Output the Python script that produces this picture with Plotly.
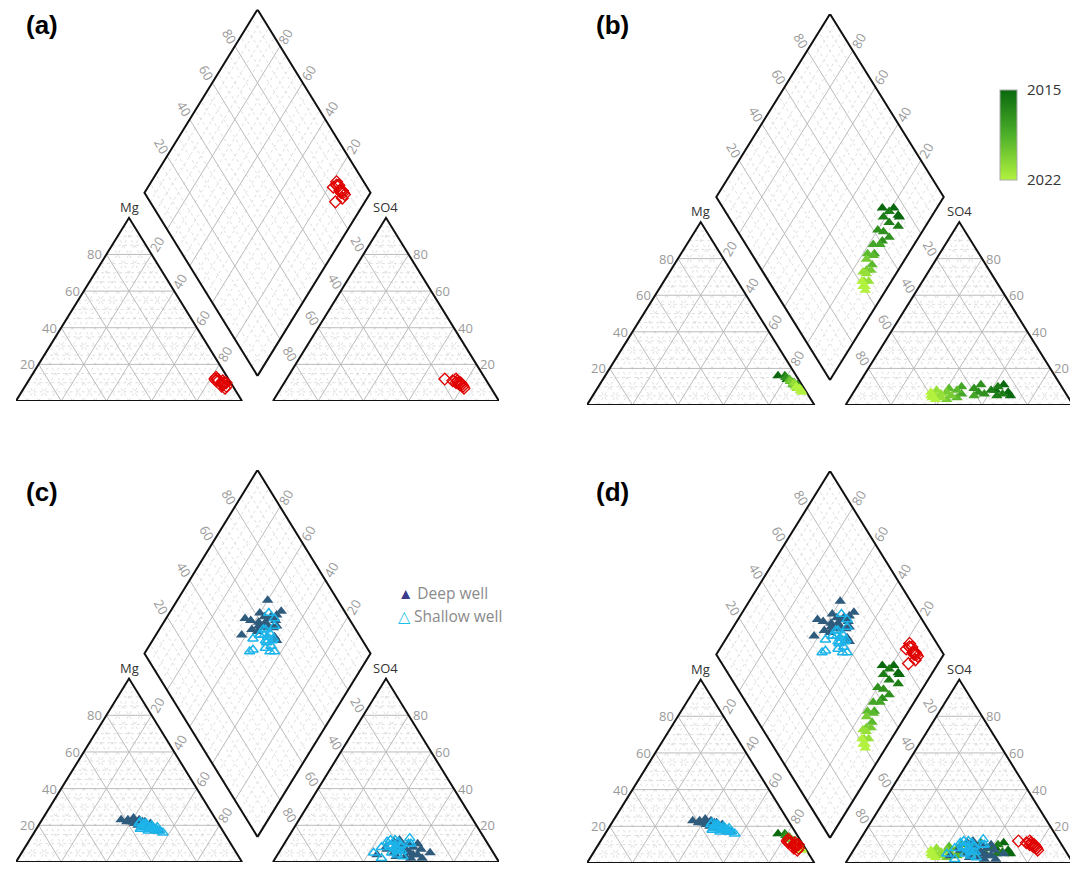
import numpy as np
import plotly.graph_objects as go

# ---------------- data (percent of meq) ----------------
# (a) red samples
a_ca  = [4, 5, 3, 6, 4, 5, 3, 4, 6, 5, 4, 2, 5, 3]
a_mg  = [10, 12, 8, 11, 9, 13, 10, 7, 12, 11, 9, 10, 8, 11]
a_so4 = [9, 11, 8, 10, 12, 9, 7, 10, 11, 8, 10, 9, 12, 10]
a_cl  = [78, 76, 80, 77, 75, 79, 81, 76, 74, 80, 78, 79, 70, 77]

# (b) green samples coloured by year
b_year = [2015, 2015, 2015, 2015, 2016, 2016, 2016, 2016, 2017, 2017, 2017, 2017,
          2018, 2018, 2018, 2019, 2019, 2019, 2020, 2020, 2020,
          2021, 2021, 2021, 2021, 2022, 2022, 2022, 2022]
b_mg  = [16, 11, 14, 12, 15, 10, 13, 16, 13, 11, 15, 12, 12, 14, 12, 11, 14, 10, 13, 9, 11, 10, 12, 8, 9, 8, 10, 7, 9]
b_ca  = [8, 3, 5, 3, 5, 2, 4, 5, 4, 2, 5, 3, 3, 4, 3, 4, 4, 3, 4, 3, 3, 3, 3, 2, 3, 2, 3, 2, 2]
b_so4 = [8, 7, 11, 5, 6, 10, 5, 8, 6, 11, 7, 9, 5, 10, 6, 8, 4, 9, 5, 7, 3, 6, 8, 4, 5, 3, 7, 5, 4]
b_cl  = [62, 68, 64, 70, 66, 62, 64, 60, 58, 54, 55, 52, 54, 46, 48, 45, 47, 41, 44, 41, 43, 39, 36, 40, 37, 38, 34, 35, 36]

# (c) deep wells
deep_ca  = [42, 40, 38, 36, 35, 37, 34, 33, 36, 32, 30, 34, 31, 29, 30, 33, 35, 28, 39, 32, 31, 37, 34, 30]
deep_mg  = [23, 22, 22, 24, 22, 21, 23, 21, 20, 20, 21, 19, 19, 18, 17, 22, 21, 17, 23, 22, 20, 22, 20, 19]
deep_so4 = [8, 4, 10, 7, 5, 9, 6, 3, 11, 7, 5, 8, 4, 6, 2, 12, 3, 9, 5, 10, 2, 7, 4, 8]
deep_cl  = [46, 44, 59, 55, 58, 50, 52, 57, 48, 62, 67, 54, 60, 56, 60, 50, 53, 53, 51, 55, 65, 47, 62, 58]

# (c) shallow wells
sh_ca  = [34, 33, 32, 31, 35, 30, 33, 29, 36, 28, 32, 34, 30, 27, 31, 33, 29, 35, 32, 30, 28, 34]
sh_mg  = [22, 19, 20, 18, 19, 19, 21, 17, 18, 17, 18, 20, 20, 16, 19, 17, 18, 21, 21, 18, 19, 19]
sh_so4 = [10, 13, 8, 6, 11, 9, 7, 12, 5, 8, 4, 9, 10, 7, 3, 11, 6, 8, 12, 5, 9, 2]
sh_cl  = [56, 54, 50, 52, 45, 48, 52, 46, 42, 48, 53, 47, 55, 51, 56, 50, 54, 44, 48, 50, 52, 47]

tick_vals = [20, 40, 60, 80]
panel_names = ["(a)", "(b)", "(c)", "(d)"]

# ---------------- geometry ----------------
FW, FH = 1078, 882
OFF = 8  # page body margin
G = 13.7
S3 = np.sqrt(3) / 2
W = 200 + G
H = 200 * S3 + G * S3


def px_x(px):
    return (px - OFF) / FW


def px_y(py):
    return 1 - (py - OFF) / FH


def cat_pt(ca, mg):
    na = 100 - ca - mg
    return (na + mg / 2.0, mg * S3)


def an_pt(so4, cl):
    return (100 + G + cl + so4 / 2.0, so4 * S3)


def dia_pt(A, C):
    return (100 + G / 2 + 0.5 * (A - C), G * S3 + S3 * (A + C))


def segs_to_xy(segs):
    xs, ys = [], []
    for p, q in segs:
        xs += [p[0], q[0], None]
        ys += [p[1], q[1], None]
    return xs, ys


def grid(vals):
    segs = []
    for v in vals:
        segs.append((cat_pt(100 - v, v), cat_pt(0, v)))
        segs.append((cat_pt(v, 0), cat_pt(v, 100 - v)))
        segs.append((cat_pt(100 - v, 0), cat_pt(0, 100 - v)))
        segs.append((an_pt(v, 0), an_pt(v, 100 - v)))
        segs.append((an_pt(0, v), an_pt(100 - v, v)))
        segs.append((an_pt(0, 100 - v), an_pt(100 - v, 0)))
        segs.append((dia_pt(v, 0), dia_pt(v, 100)))
        segs.append((dia_pt(0, v), dia_pt(100, v)))
    return segs_to_xy(segs)


def outline():
    polys = [
        [cat_pt(100, 0), cat_pt(0, 0), cat_pt(0, 100), cat_pt(100, 0)],
        [an_pt(0, 0), an_pt(0, 100), an_pt(100, 0), an_pt(0, 0)],
        [dia_pt(0, 0), dia_pt(100, 0), dia_pt(100, 100), dia_pt(0, 100), dia_pt(0, 0)],
    ]
    xs, ys = [], []
    for poly in polys:
        xs += [p[0] for p in poly] + [None]
        ys += [p[1] for p in poly] + [None]
    return xs, ys


def sample_xy(ca, mg, so4, cl):
    xs, ys = [], []
    for i in range(len(ca)):
        p = cat_pt(ca[i], mg[i]); xs.append(p[0]); ys.append(p[1])
    for i in range(len(ca)):
        p = an_pt(so4[i], cl[i]); xs.append(p[0]); ys.append(p[1])
    for i in range(len(ca)):
        p = dia_pt(so4[i] + cl[i], ca[i] + mg[i]); xs.append(p[0]); ys.append(p[1])
    return xs, ys


panels = [
    dict(x0=16, x1=499, ybot=401, ytop=9.5),
    dict(x0=587, x1=1073, ybot=405, ytop=14),
    dict(x0=16, x1=499, ybot=862, ytop=470),
    dict(x0=587, x1=1073, ybot=863, ytop=471),
]

fig = go.Figure()
annotations = []
layout = {}

minor_vals = [v for v in range(5, 100, 5) if v % 20 != 0]
TICK_FONT = dict(family="Open Sans", size=13, color="#9a9a9a")
CORNER_FONT = dict(family="Open Sans", size=13, color="#333333")

green_scale = [[0.0, "#b2f23e"], [0.5, "#4db02a"], [1.0, "#0a680e"]]

for i, p in enumerate(panels):
    sfx = "" if i == 0 else str(i + 1)
    xr, yr = "x" + sfx, "y" + sfx
    layout["xaxis" + sfx] = dict(domain=[px_x(p["x0"]), px_x(p["x1"])], range=[0, W], visible=False,
                                 anchor=yr, fixedrange=True)
    layout["yaxis" + sfx] = dict(domain=[px_y(p["ybot"]), px_y(p["ytop"])], range=[0, H],
                                 visible=False, anchor=xr, fixedrange=True)
    kx = (p["x1"] - p["x0"]) / W
    ky = (p["ybot"] - p["ytop"]) / H

    gx, gy = grid(minor_vals)
    fig.add_trace(go.Scatter(x=gx, y=gy, mode="lines", xaxis=xr, yaxis=yr, hoverinfo="skip",
                             line=dict(color="#d6d6d6", width=0.8, dash="dot"), showlegend=False))
    gx, gy = grid(tick_vals)
    fig.add_trace(go.Scatter(x=gx, y=gy, mode="lines", xaxis=xr, yaxis=yr, hoverinfo="skip",
                             line=dict(color="#bbbbbb", width=1), showlegend=False))
    ox_, oy_ = outline()
    fig.add_trace(go.Scatter(x=ox_, y=oy_, mode="lines", xaxis=xr, yaxis=yr, hoverinfo="skip",
                             line=dict(color="#111111", width=2), showlegend=False))

    def lab(x, y, text, ox=0, oy=0, angle=0, xa="center", ya="middle", font=TICK_FONT):
        annotations.append(dict(x=x + ox / kx, y=y - oy / ky, xref=xr, yref=yr, text=text,
                                showarrow=False, textangle=angle, xanchor=xa, yanchor=ya,
                                font=font))

    d = 11.5
    for v in tick_vals:
        # left triangle
        x, y = cat_pt(100 - v, v); lab(x, y, str(v), ox=-2, xa="right")
        x, y = cat_pt(v, 0); lab(x, y, str(v), ox=0.5 * d, oy=S3 * d, angle=60)
        x, y = cat_pt(0, 100 - v); lab(x, y, str(v), ox=0.5 * d, oy=-S3 * d, angle=-60)
        # right triangle
        x, y = an_pt(v, 100 - v); lab(x, y, str(v), ox=2, xa="left")
        x, y = an_pt(100 - v, 0); lab(x, y, str(v), ox=-0.5 * d, oy=-S3 * d, angle=60)
        x, y = an_pt(0, v); lab(x, y, str(v), ox=-0.5 * d, oy=S3 * d, angle=-60)
        # diamond
        x, y = dia_pt(v, 100); lab(x, y, str(v), ox=-0.5 * d, oy=-S3 * d, angle=60)
        x, y = dia_pt(100, v); lab(x, y, str(v), ox=0.5 * d, oy=-S3 * d, angle=-60)

    x, y = cat_pt(0, 100); lab(x, y, "Mg", oy=-11, font=CORNER_FONT)
    x, y = an_pt(100, 0); lab(x, y, "SO4", oy=-11, font=CORNER_FONT)
    x, y = cat_pt(100, 0); lab(x, y, "Ca", ox=-2, oy=9, font=CORNER_FONT)
    lab(100 + G / 2, 0, "Na+KHCO3", oy=9, font=CORNER_FONT)
    x, y = an_pt(0, 100); lab(x, y, "Cl", ox=-1, oy=9, font=CORNER_FONT)

    # ---- samples ----
    if i in (1, 3):
        x, y = sample_xy(b_ca, b_mg, b_so4, b_cl)
        col = [-yy for yy in b_year] * 3
        mk = dict(symbol="triangle-up", size=10, color=col, colorscale=green_scale,
                  cmin=-2022, cmax=-2015, line=dict(width=0), showscale=(i == 1))
        if i == 1:
            mk["colorbar"] = dict(x=px_x(1000), xanchor="left", y=px_y(135), yanchor="middle",
                                  len=90 / FH, lenmode="fraction", thickness=17,
                                  thicknessmode="pixels", tickvals=[-2015, -2022],
                                  ticktext=["2015", "2022"], ticks="outside", ticklen=7,
                                  tickcolor="rgba(0,0,0,0)", outlinecolor="#aaaaaa",
                                  outlinewidth=1, xpad=0, ypad=0,
                                  tickfont=dict(family="Open Sans", size=15, color="#333333"))
        fig.add_trace(go.Scatter(x=x, y=y, mode="markers", xaxis=xr, yaxis=yr, marker=mk,
                                 name="2015-2022", showlegend=False, cliponaxis=False))
    if i in (2, 3):
        x, y = sample_xy(deep_ca, deep_mg, deep_so4, deep_cl)
        fig.add_trace(go.Scatter(x=x, y=y, mode="markers", xaxis=xr, yaxis=yr,
                                 marker=dict(symbol="triangle-up", size=10, color="#2f5b7d",
                                             line=dict(width=0)),
                                 name="Deep well", showlegend=False, cliponaxis=False))
        x, y = sample_xy(sh_ca, sh_mg, sh_so4, sh_cl)
        fig.add_trace(go.Scatter(x=x, y=y, mode="markers", xaxis=xr, yaxis=yr,
                                 marker=dict(symbol="triangle-up-open", size=9, color="#1db4ea",
                                             line=dict(width=1.5, color="#1db4ea")),
                                 name="Shallow well", showlegend=False, cliponaxis=False))
    if i in (0, 3):
        x, y = sample_xy(a_ca, a_mg, a_so4, a_cl)
        fig.add_trace(go.Scatter(x=x, y=y, mode="markers", xaxis=xr, yaxis=yr,
                                 marker=dict(symbol="diamond-open", size=9, color="#e00000",
                                             line=dict(width=1.3, color="#e00000")),
                                 name="Samples", showlegend=False, cliponaxis=False))

# panel letters
for name, (px, py) in zip(panel_names, [(24, 25), (594, 25), (24, 492), (594, 492)]):
    annotations.append(dict(x=px_x(px), y=px_y(py), xref="paper", yref="paper", text="<b>%s</b>" % name,
                            showarrow=False, xanchor="left", yanchor="middle",
                            font=dict(family="Liberation Sans, Arial", size=26, color="#000000")))

# legend for (c)
annotations.append(dict(x=px_x(396), y=px_y(593), xref="paper", yref="paper",
                        text="<span style='color:#3b3a8c'>▲</span> Deep well", showarrow=False,
                        xanchor="left", yanchor="middle",
                        font=dict(family="Open Sans", size=15.5, color="#8a8a8a")))
annotations.append(dict(x=px_x(396), y=px_y(616), xref="paper", yref="paper",
                        text="<span style='color:#1ec3ea'>△</span> Shallow well", showarrow=False,
                        xanchor="left", yanchor="middle",
                        font=dict(family="Open Sans", size=15.5, color="#8a8a8a")))

fig.update_layout(width=FW, height=FH, margin=dict(l=0, r=0, t=0, b=0, autoexpand=False),
                  paper_bgcolor="white", plot_bgcolor="white", showlegend=False,
                  annotations=annotations, **layout)

fig.write_html("out.html")
